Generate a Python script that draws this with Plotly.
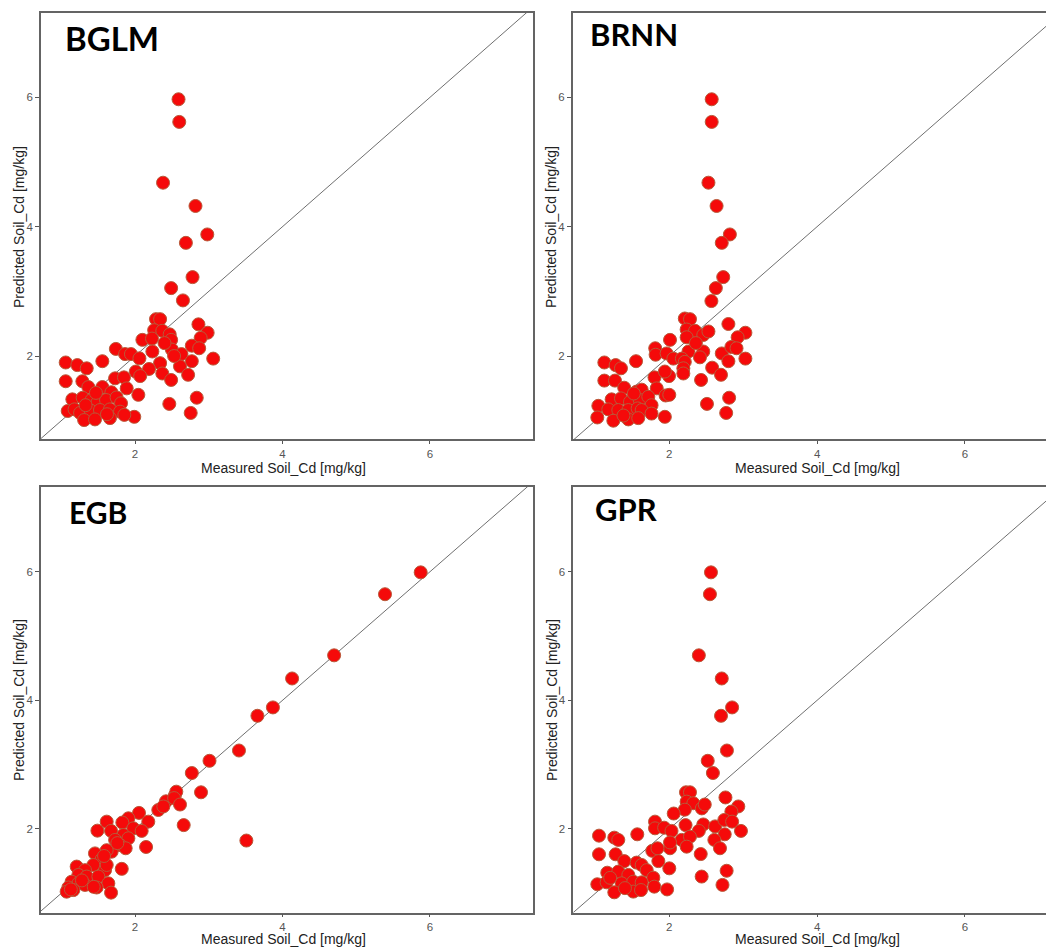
import plotly.graph_objects as go

# The page body adds an 8px margin; the figure is sized to fill the rest of the window
OFF = 8
W, H = 1054 - OFF, 948 - OFF

panel_names = ["BGLM", "BRNN", "EGB", "GPR"]
x_title = "Measured Soil_Cd [mg/kg]"
y_title = "Predicted Soil_Cd [mg/kg]"
tick_values = [2, 4, 6]
identity_line = [0, 8]

# ---- BGLM ----
bglm_x = [2.59, 2.60, 2.38, 2.82, 2.98, 2.69, 2.78, 2.49, 2.65,
          2.285, 2.34, 2.86, 2.985, 2.89, 2.26, 2.37, 2.47, 2.10, 2.23, 2.49,
          2.77, 2.87, 1.74, 1.865, 1.945, 2.06, 2.235, 2.50, 2.63, 2.77, 3.06,
          2.34, 2.61, 2.19, 2.37, 2.72, 2.49, 2.01, 2.07,
          1.06, 1.218, 1.345, 1.557, 1.06, 1.286, 1.367, 1.557, 1.73, 1.85,
          1.68, 1.887, 2.045, 1.15, 1.29, 1.41, 1.49, 1.607, 1.75, 1.81,
          1.087, 1.18, 1.255, 1.40, 1.525, 1.66, 1.797, 1.99, 1.31, 1.457,
          1.66, 1.855, 2.465, 2.837, 2.755, 2.40, 2.53, 1.33, 1.47, 1.62]
bglm_y = [5.97, 5.62, 4.68, 4.32, 3.88, 3.75, 3.22, 3.05, 2.86,
          2.57, 2.57, 2.49, 2.36, 2.28, 2.40, 2.39, 2.335, 2.25, 2.27, 2.25,
          2.16, 2.12, 2.11, 2.03, 2.03, 1.964, 2.07, 2.10, 2.03, 1.92, 1.96,
          1.89, 1.84, 1.80, 1.73, 1.71, 1.63, 1.76, 1.69,
          1.90, 1.86, 1.81, 1.92, 1.61, 1.61, 1.52, 1.52, 1.655, 1.67,
          1.44, 1.50, 1.40, 1.33, 1.355, 1.32, 1.28, 1.32, 1.36, 1.27,
          1.15, 1.175, 1.12, 1.155, 1.165, 1.175, 1.14, 1.06, 1.01, 1.02,
          1.04, 1.09, 1.26, 1.355, 1.12, 2.20, 2.00, 1.24, 1.43, 1.10]

# ---- BRNN ----
brnn_x = [2.574, 2.574, 2.53, 2.64, 2.82, 2.71, 2.73, 2.63, 2.57,
          2.21, 2.28, 2.80, 3.03, 2.925, 2.235, 2.348, 2.46, 2.53, 2.235, 2.01,
          1.81, 1.815, 1.964, 2.055, 2.26, 2.46, 2.415, 2.17, 2.21, 2.71, 2.80,
          2.84, 2.91, 3.03, 2.58, 2.70, 2.43, 2.19, 2.19, 1.80, 1.996, 1.94,
          1.121, 1.274, 1.346, 1.55, 1.121, 1.265, 1.39, 1.558, 1.626, 1.83,
          1.95, 2.00, 1.22, 1.346, 1.468, 1.60, 1.716, 1.76, 1.04, 1.175,
          1.31, 1.446, 1.572, 1.626, 1.76, 1.026, 1.243, 1.446, 1.58, 1.94,
          2.51, 2.81, 2.77, 1.38, 1.52, 2.36]
brnn_y = [5.97, 5.62, 4.68, 4.32, 3.88, 3.75, 3.22, 3.05, 2.85,
          2.58, 2.57, 2.495, 2.36, 2.29, 2.41, 2.39, 2.325, 2.38, 2.29, 2.25,
          2.12, 2.02, 2.04, 1.96, 2.07, 2.07, 1.98, 1.96, 1.91, 2.04, 1.92,
          2.14, 2.12, 1.96, 1.82, 1.71, 1.63, 1.81, 1.73, 1.67, 1.69, 1.76,
          1.90, 1.86, 1.81, 1.92, 1.62, 1.62, 1.51, 1.45, 1.48, 1.50,
          1.39, 1.40, 1.33, 1.345, 1.29, 1.32, 1.37, 1.24, 1.23, 1.175,
          1.165, 1.165, 1.19, 1.165, 1.11, 1.05, 1.00, 1.02, 1.04, 1.06,
          1.26, 1.355, 1.12, 1.08, 1.42, 2.20]

# ---- EGB ----
egb_x = [5.874, 5.39, 4.70, 4.13, 3.87, 3.66, 3.41, 3.01, 2.77, 2.895,
         3.51, 2.66, 2.54, 2.15, 1.82,
         2.56, 2.42, 2.53, 2.61, 2.316, 2.384, 2.18, 2.054, 1.91, 1.828,
         1.616, 1.49, 1.675, 1.977, 2.09, 1.842, 1.91, 1.73, 1.797, 1.873,
         1.683, 1.616, 1.457, 1.548, 1.435, 1.593, 1.616, 1.209, 1.322,
         1.232, 1.345, 1.503, 1.638, 1.14, 1.232, 1.322, 1.48, 1.096,
         1.164, 1.073, 1.675, 1.44, 1.28, 1.58, 1.76, 1.13]
egb_y = [5.99, 5.65, 4.70, 4.34, 3.89, 3.76, 3.22, 3.06, 2.87, 2.57,
         1.82, 2.06, 2.52, 1.72, 1.38,
         2.58, 2.43, 2.48, 2.38, 2.295, 2.35, 2.114, 2.25, 2.166, 2.10,
         2.114, 1.974, 1.97, 2.01, 1.97, 1.907, 1.855, 1.83, 1.75, 1.70,
         1.647, 1.67, 1.62, 1.53, 1.44, 1.36, 1.44, 1.415, 1.36,
         1.285, 1.26, 1.26, 1.155, 1.18, 1.155, 1.13, 1.09, 1.09,
         1.05, 1.025, 1.01, 1.10, 1.20, 1.58, 1.78, 1.06]

# ---- GPR ----
gpr_x = [2.564, 2.55, 2.40, 2.71, 2.85, 2.70, 2.78, 2.52, 2.59,
         2.226, 2.28, 2.76, 2.934, 2.84, 2.235, 2.325, 2.44, 2.48, 2.21, 2.06,
         1.807, 1.807, 1.93, 2.03, 2.22, 2.46, 2.40, 2.167, 2.28, 2.235, 2.62,
         2.745, 2.85, 2.75, 2.97, 2.61, 2.686, 2.425, 2.01, 2.01, 1.77, 1.84,
         1.049, 1.256, 1.31, 1.567, 1.049, 1.274, 1.391, 1.558, 1.626, 1.852,
         2.00, 1.161, 1.31, 1.446, 1.694, 1.784, 1.026, 1.152, 1.355, 1.513,
         1.626, 1.256, 1.513, 1.617, 1.797, 1.97, 2.438, 2.776, 2.72, 1.40, 1.20]
gpr_y = [5.99, 5.65, 4.70, 4.34, 3.89, 3.76, 3.22, 3.06, 2.87,
         2.57, 2.57, 2.49, 2.35, 2.27, 2.425, 2.40, 2.32, 2.38, 2.30, 2.24,
         2.114, 2.01, 2.02, 1.97, 2.06, 2.07, 1.97, 1.83, 1.88, 1.725, 2.04,
         2.14, 2.114, 1.917, 1.97, 1.83, 1.70, 1.61, 1.70, 1.79, 1.66, 1.70,
         1.896, 1.865, 1.83, 1.917, 1.606, 1.606, 1.50, 1.477, 1.44, 1.50,
         1.388, 1.32, 1.337, 1.285, 1.36, 1.243, 1.14, 1.17, 1.155, 1.18,
         1.17, 1.015, 1.026, 1.05, 1.103, 1.06, 1.26, 1.35, 1.13, 1.08, 1.24]

xs = [bglm_x, brnn_x, egb_x, gpr_x]
ys = [bglm_y, brnn_y, egb_y, gpr_y]

# layout geometry (window pixels)
panels = [
    dict(x0=41, x1=533, y0=13, y1=439, xr=[0.725, 7.397], yr=[0.717, 7.304], mirror_y=True,
         tx=63, ty=38, tsize=33, xt=(283, 468), yt=(19, 227)),
    dict(x0=572.7, x1=1054, y0=13, y1=439, xr=[0.693, 7.206], yr=[0.717, 7.304], mirror_y=False,
         tx=588, ty=34, tsize=31, xt=(817, 468), yt=(551, 227)),
    dict(x0=41, x1=533, y0=486.7, y1=912.7, xr=[0.725, 7.397], yr=[0.698, 7.322], mirror_y=True,
         tx=67, ty=512, tsize=30, xt=(283, None), yt=(19, 700)),
    dict(x0=573.3, x1=1054, y0=486.7, y1=912.7, xr=[0.701, 7.206], yr=[0.698, 7.322], mirror_y=False,
         tx=593, ty=509, tsize=31, xt=(817, None), yt=(552, 700)),
]


def fx(px):
    return (px - OFF) / W


def fy(py):
    return 1 - (py - OFF) / H


fig = go.Figure()
annotations = []
frame_color = "#646464"
tick_font = dict(family="Liberation Sans, Arial, sans-serif", size=11.5, color="#555555")
title_font = dict(family="Liberation Sans, Arial, sans-serif", size=14, color="#222222")

for i, p in enumerate(panels):
    n = i + 1
    xa = "x" if n == 1 else f"x{n}"
    ya = "y" if n == 1 else f"y{n}"
    fig.add_trace(go.Scatter(x=identity_line, y=identity_line, mode="lines",
                             line=dict(color="#6f6f6f", width=1), xaxis=xa, yaxis=ya,
                             showlegend=False, hoverinfo="skip"))
    fig.add_trace(go.Scatter(x=xs[i], y=ys[i], mode="markers",
                             marker=dict(size=13, color="#f50a0a",
                                         line=dict(color="#b85a3a", width=1)),
                             xaxis=xa, yaxis=ya, showlegend=False))
    xkey = "xaxis" if n == 1 else f"xaxis{n}"
    ykey = "yaxis" if n == 1 else f"yaxis{n}"
    fig.layout[xkey] = dict(domain=[max(0, fx(p["x0"])), min(1, fx(p["x1"]))], range=p["xr"], anchor=ya,
                            tickvals=tick_values, ticks="outside", ticklen=3, tickcolor="#555555",
                            showgrid=False, zeroline=False, showline=True, mirror=True,
                            linecolor=frame_color, linewidth=1.5, tickfont=tick_font)
    fig.layout[ykey] = dict(domain=[max(0, fy(p["y1"])), min(1, fy(p["y0"]))], range=p["yr"], anchor=xa,
                            tickvals=tick_values, ticks="outside", ticklen=4, tickcolor="#555555",
                            showgrid=False, zeroline=False, showline=True, mirror=p["mirror_y"],
                            linecolor=frame_color, linewidth=1.5, tickfont=tick_font)
    annotations.append(dict(text=f"<b>{panel_names[i]}</b>", x=fx(p["tx"]), y=fy(p["ty"]),
                            xref="paper", yref="paper", xanchor="left", yanchor="middle",
                            showarrow=False,
                            font=dict(family="Lato, Noto Sans, sans-serif", size=p["tsize"], color="#000000")))
    if p["xt"][1] is None:
        annotations.append(dict(text=x_title, x=fx(p["xt"][0]), y=0,
                                xref="paper", yref="paper", xanchor="center", yanchor="bottom",
                                borderpad=0, showarrow=False, font=title_font))
    else:
        annotations.append(dict(text=x_title, x=fx(p["xt"][0]), y=fy(p["xt"][1]),
                                xref="paper", yref="paper", xanchor="center", yanchor="middle",
                                showarrow=False, font=title_font))
    annotations.append(dict(text=y_title, x=fx(p["yt"][0]), y=fy(p["yt"][1]),
                            xref="paper", yref="paper", xanchor="center", yanchor="middle",
                            textangle=-90, showarrow=False, font=title_font))

fig.update_layout(width=W, height=H, margin=dict(l=0, r=0, t=0, b=0),
                  paper_bgcolor="white", plot_bgcolor="white", annotations=annotations)

fig.write_html("out.html")
